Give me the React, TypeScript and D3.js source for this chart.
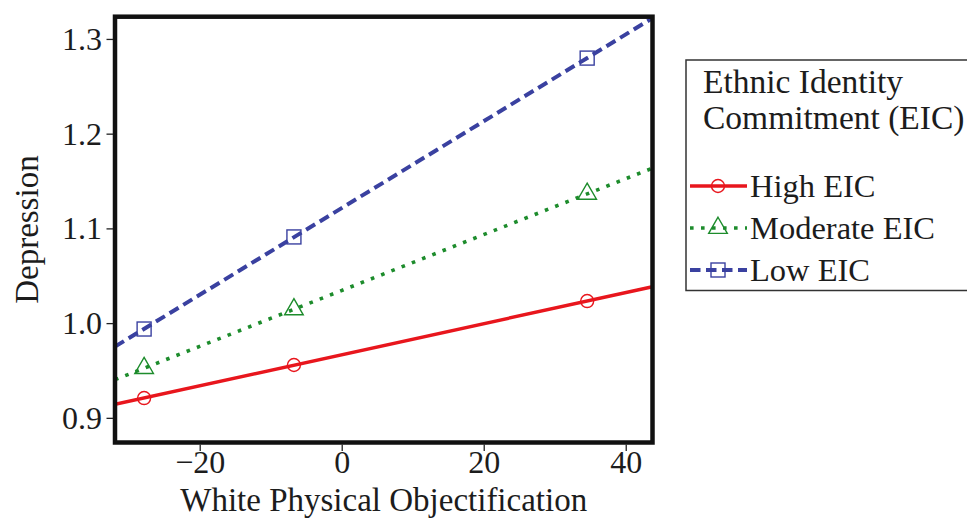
import React from "react";
import * as d3 from "d3";

const xTicks = [-20, 0, 20, 40];
const yTicks = [0.9, 1.0, 1.1, 1.2, 1.3];
const xValues = [-27.9, -6.8, 34.5];
const highEIC = [0.9214, 0.9563, 1.0238];
const moderateEIC = [0.953, 1.015, 1.137];
const lowEIC = [0.9943, 1.0915, 1.2803];
const legendTitle = ["Ethnic Identity", "Commitment (EIC)"];
const seriesNames = ["High EIC", "Moderate EIC", "Low EIC"];
const xTitle = "White Physical Objectification";
const yTitle = "Depression";

const W = 967;
const H = 520;
const FONT = "Liberation Serif, DejaVu Serif, serif";
const TEXT = "#1c1c1c";

const x = d3.scaleLinear().domain([-32, 43.7]).range([115, 652.5]);
const y = d3.scaleLinear().domain([0.8745, 1.324]).range([442.5, 16.7]);

type Series = {
  name: string;
  values: number[];
  color: string;
  width: number;
  dash: string | undefined;
  cap: "butt" | "round" | "square";
  marker: "circle" | "triangle" | "square";
};

const series: Series[] = [
  { name: seriesNames[0], values: highEIC, color: "#e8161d", width: 3.4, dash: undefined, cap: "butt", marker: "circle" },
  { name: seriesNames[1], values: moderateEIC, color: "#1d8c2c", width: 3.6, dash: "3.6,7.4", cap: "butt", marker: "triangle" },
  { name: seriesNames[2], values: lowEIC, color: "#3a41a0", width: 4, dash: "10.5,5.5", cap: "butt", marker: "square" },
];

function fit(xs: number[], ys: number[]) {
  const mx = d3.mean(xs) as number;
  const my = d3.mean(ys) as number;
  let num = 0;
  let den = 0;
  xs.forEach((xv, i) => {
    num += (xv - mx) * (ys[i] - my);
    den += (xv - mx) * (xv - mx);
  });
  const b = num / den;
  return (xv: number) => my + b * (xv - mx);
}

function Marker({ kind, cx, cy, color }: { kind: string; cx: number; cy: number; color: string }) {
  const sw = 1.4;
  if (kind === "circle") return <circle cx={cx} cy={cy} r={6.5} fill="none" stroke={color} strokeWidth={sw} />;
  if (kind === "square") return <rect x={cx - 7} y={cy - 7} width={14} height={14} fill="none" stroke={color} strokeWidth={sw} />;
  const tri = d3.symbol().type(d3.symbolTriangle).size(150)();
  return <path d={tri as string} transform={`translate(${cx},${cy})`} fill="none" stroke={color} strokeWidth={sw} />;
}

export default function App() {
  const [x0, x1] = x.domain();
  const lineGen = d3
    .line<[number, number]>()
    .x((d) => x(d[0]))
    .y((d) => y(d[1]));

  const legendX = 686;
  const legendRows = [186, 228, 270];

  return (
    <svg width={W} height={H} style={{ position: "absolute", left: 0, top: 0, background: "#fff" }}>
      <rect x={0} y={0} width={W} height={H} fill="#fff" />
      <defs>
        <clipPath id="plotclip">
          <rect x={x(x0)} y={y(y.domain()[1])} width={x(x1) - x(x0)} height={y(y.domain()[0]) - y(y.domain()[1])} />
        </clipPath>
      </defs>

      {/* lines */}
      <g clipPath="url(#plotclip)">
        {series.map((s) => {
          const f = fit(xValues, s.values);
          const pts: [number, number][] = [
            [x0, f(x0)],
            [x1, f(x1)],
          ];
          return (
            <path
              key={s.name}
              d={lineGen(pts) as string}
              fill="none"
              stroke={s.color}
              strokeWidth={s.width}
              strokeDasharray={s.dash}
              strokeLinecap={s.cap}
            />
          );
        })}
        {series.map((s) =>
          s.values.map((v, i) => (
            <Marker key={s.name + i} kind={s.marker} cx={x(xValues[i])} cy={y(v)} color={s.color} />
          ))
        )}
      </g>

      {/* box */}
      <rect
        x={x(x0)}
        y={y(y.domain()[1])}
        width={x(x1) - x(x0)}
        height={y(y.domain()[0]) - y(y.domain()[1])}
        fill="none"
        stroke="#111"
        strokeWidth={4.5}
      />

      {/* y axis */}
      {yTicks.map((t) => (
        <g key={t}>
          <line x1={106.5} x2={113} y1={y(t)} y2={y(t)} stroke="#222" strokeWidth={1.3} />
          <text x={102} y={y(t) + 10.5} textAnchor="end" fontFamily={FONT} fontSize={32} fill={TEXT}>
            {d3.format(".1f")(t)}
          </text>
        </g>
      ))}
      <text
        transform={`translate(38,${(y.range()[0] + y.range()[1]) / 2}) rotate(-90)`}
        textAnchor="middle"
        fontFamily={FONT}
        fontSize={33}
        fill={TEXT}
      >
        {yTitle}
      </text>

      {/* x axis */}
      {xTicks.map((t) => (
        <g key={t}>
          <line x1={x(t)} x2={x(t)} y1={444.5} y2={451} stroke="#222" strokeWidth={1.3} />
          <text x={x(t)} y={473} textAnchor="middle" fontFamily={FONT} fontSize={32} fill={TEXT}>
            {t < 0 ? "\u2212" + Math.abs(t) : String(t)}
          </text>
        </g>
      ))}
      <text x={(x.range()[0] + x.range()[1]) / 2} y={511} textAnchor="middle" fontFamily={FONT} fontSize={33} fill={TEXT}>
        {xTitle}
      </text>

      {/* legend */}
      <rect x={legendX} y={60} width={320} height={230.5} fill="none" stroke="#333" strokeWidth={1.5} />
      {legendTitle.map((l, i) => (
        <text key={l} x={703} y={93 + i * 36} fontFamily={FONT} fontSize={33.5} fill={TEXT}>
          {l}
        </text>
      ))}
      {series.map((s, i) => {
        const ly = legendRows[i];
        return (
          <g key={s.name}>
            <line
              x1={690}
              x2={747}
              y1={ly}
              y2={ly}
              stroke={s.color}
              strokeWidth={s.width}
              strokeDasharray={s.dash}
              strokeLinecap={s.cap}
            />
            <Marker kind={s.marker} cx={718} cy={ly} color={s.color} />
            <text x={750} y={ly + 11} fontFamily={FONT} fontSize={32.5} fill={TEXT}>
              {s.name}
            </text>
          </g>
        );
      })}
    </svg>
  );
}
